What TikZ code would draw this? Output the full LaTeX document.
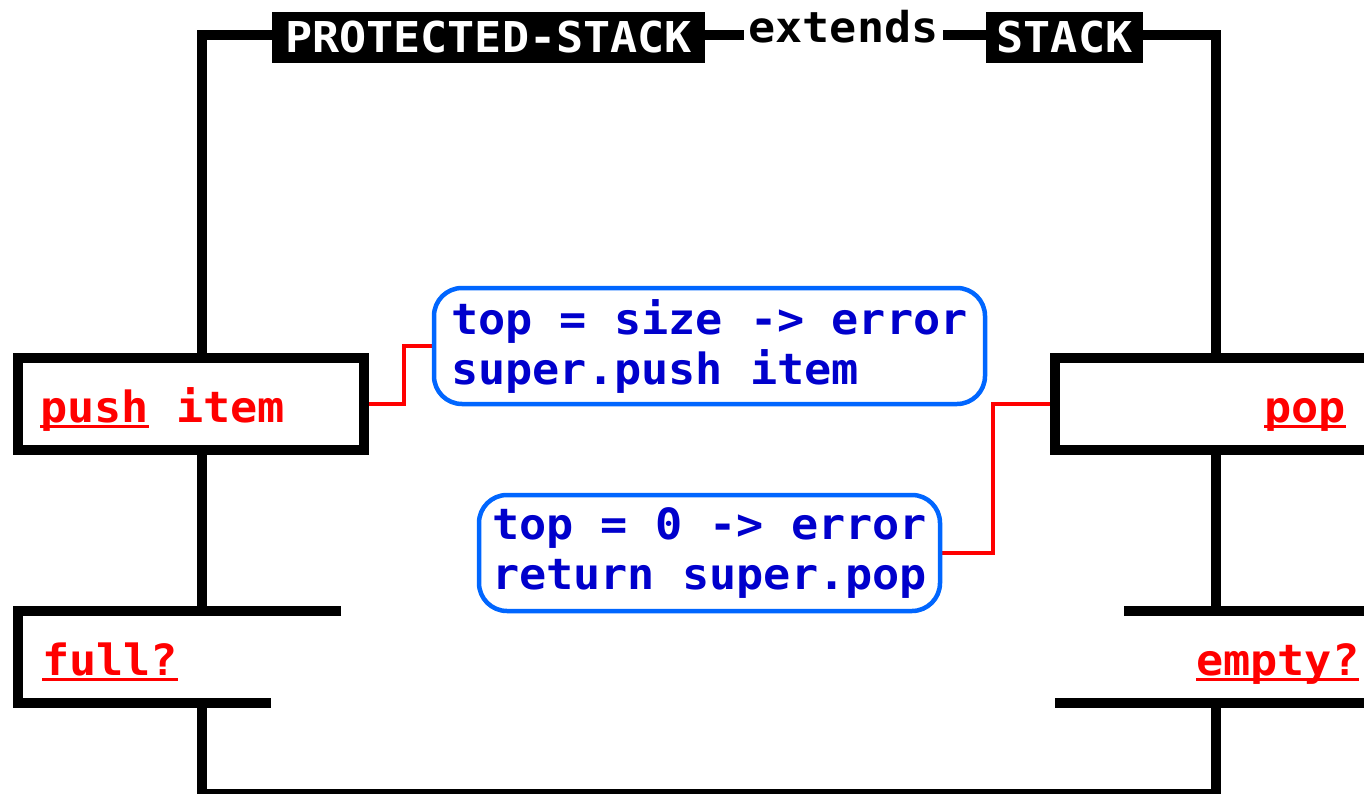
\documentclass[tikz,border=0pt]{standalone}
\usepackage{fontspec}
\newfontfamily\codefont[FakeStretch=1.05]{DejaVu Sans Mono}
\newfontfamily\titlefont[FakeStretch=1.06]{DejaVu Sans Mono}
\usetikzlibrary{backgrounds}
\definecolor{txtred}{HTML}{FF0000}
\definecolor{noteblue}{HTML}{0066FF}
\definecolor{textblue}{HTML}{0000CC}
\newcommand\ulword[1]{\setbox0\hbox{#1}\rlap{\rule[-5.5pt]{\wd0}{2.5pt}}\box0\relax}
\begin{document}
\begin{tikzpicture}[x=1pt,y=-1pt,
  frame/.style={line width=10pt, draw=black},
  blackbox/.style={draw=black, fill=white, line width=10pt, inner sep=0pt},
  titlebox/.style={fill=black, text=white, inner sep=0pt,
    font=\titlefont\bfseries\fontsize{42.5}{50}\selectfont},
  plaintitle/.style={fill=white, text=black, inner xsep=5pt, inner ysep=4pt,
    font=\titlefont\bfseries\fontsize{42.5}{50}\selectfont},
  redtxt/.style={text=txtred, inner sep=0pt, anchor=base west,
    font=\codefont\bfseries\fontsize{43}{50}\selectfont},
  note/.style={draw=noteblue, line width=4.5pt, rounded corners=28pt, fill=white,
    align=left, text=textblue, inner sep=0pt,
    font=\codefont\bfseries\fontsize{43}{50}\selectfont},
  redline/.style={draw=txtred, line width=4.5pt}]
\useasboundingbox (0,0) rectangle (1364,794);
\clip (0,0) rectangle (1364,794);

% frame corners
\coordinate (tl) at (202,35);
\coordinate (tr) at (1216,35);
\coordinate (bl) at (202,794);
\coordinate (br) at (1216,794);

% bracket coordinates
\coordinate (f1) at (341,611);
\coordinate (f2) at (18,611);
\coordinate (f3) at (18,703);
\coordinate (f4) at (271,703);
\coordinate (e1) at (1124,611);
\coordinate (e1r) at (1380,611);
\coordinate (e2) at (1055,703);
\coordinate (e2r) at (1380,703);

% title nodes
\node[titlebox, minimum width=433pt, minimum height=51pt] (ptitle) at (488.5,37.5) {PROTECTED-STACK};
\node[plaintitle] (ext) at (843.5,27) {extends};
\node[titlebox, minimum width=157pt, minimum height=51pt] (stitle) at (1064.5,37.5) {STACK};

% method boxes
\node[blackbox, minimum width=345.5pt, minimum height=92pt] (pushbox) at (190.75,404) {};
\node[redtxt] (pushtxt) at (40,422) {\ulword{push} item};
\node[blackbox, minimum width=322pt, minimum height=92pt] (popbox) at (1216,404) {};
\node[redtxt] (poptxt) at (1264,422) {\ulword{pop}};

% brackets
\draw[frame] (f1) -- (f2) -- (f3) -- (f4);
\node[redtxt] (fulltxt) at (42,675) {\ulword{full?}};
\draw[frame] (e1) -- (e1r);
\draw[frame] (e2) -- (e2r);
\node[redtxt] (emptytxt) at (1196,675) {\ulword{empty?}};

% notes
\node[note, minimum width=551pt, minimum height=116pt] (note1) at (709.5,346)
  {top = size -> error\\super.push item};
\node[note, minimum width=461pt, minimum height=116pt] (note2) at (709.5,553)
  {top = 0 -> error\\return super.pop};

\begin{scope}[on background layer]
  \draw[frame] (tl |- pushbox.north) -- (tl) -- (tr) -- (tr |- popbox.north);
  \draw[frame] (tl |- pushbox.south) -- (tl |- f2);
  \draw[frame] (tl |- f3) -- (bl) -- (br) -- (br |- e2);
  \draw[frame] (tr |- popbox.south) -- (tr |- e1);
  \draw[redline] (pushbox.east) -- ++(35.5,0) |- (note1.west);
  \draw[redline] (popbox.west) -- ++(-57,0) |- (note2.east);
\end{scope}
\end{tikzpicture}
\end{document}
